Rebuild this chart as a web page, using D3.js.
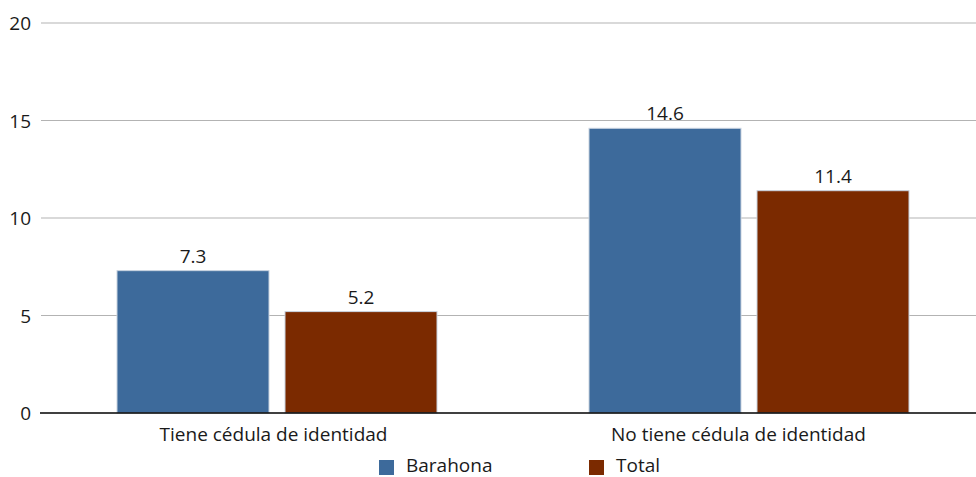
<!DOCTYPE html>
<html><head><meta charset="utf-8">
<script src="https://cdn.jsdelivr.net/npm/d3@7"></script>
<style>body{margin:0;background:#fff;} svg{display:block;font-family:"Open Sans",sans-serif;}</style>
</head><body><svg id="c" width="976" height="477"></svg>
<script>
const categories = ["Tiene cédula de identidad", "No tiene cédula de identidad"];
const seriesNames = ["Barahona", "Total"];
const barahona = [7.3, 14.6];
const total = [5.2, 11.4];
const yTicks = [0, 5, 10, 15, 20];
const colors = ["#3D6A9B", "#7B2A00"];

const svg = d3.select("#c");
const y = d3.scaleLinear().domain([0, 20]).range([413, 23]);
const x0 = d3.scaleBand().domain(categories).range([41, 985]);
const xLabel = d3.scaleBand().domain(categories).range([41, 971]);
const x1 = d3.scaleBand().domain(seriesNames).range([0, 320]).paddingInner(16/168);
const groupOffset = 76;
const values = [barahona, total];
const fs = 19;

// grid
svg.append("g").selectAll("line").data(yTicks.filter(d => d > 0)).join("line")
  .attr("x1", 41).attr("x2", 976).attr("y1", d => y(d)).attr("y2", d => y(d))
  .attr("stroke", "#b3b3b3").attr("stroke-width", 1.2);

// y labels
svg.append("g").selectAll("text").data(yTicks).join("text")
  .attr("x", 31).attr("y", d => y(d) + 7).attr("text-anchor", "end")
  .attr("font-size", fs).attr("fill", "#1a1a1a").text(d => d);

// bars
categories.forEach((c, i) => {
  const g = svg.append("g").attr("transform", `translate(${x0(c) + groupOffset},0)`);
  seriesNames.forEach((s, j) => {
    const v = values[j][i];
    g.append("rect").attr("x", x1(s)).attr("width", x1.bandwidth())
      .attr("y", y(v)).attr("height", y(0) - y(v))
      .attr("fill", colors[j]).attr("stroke", "#c9d3e0").attr("stroke-width", 1);
    g.append("text").attr("x", x1(s) + x1.bandwidth() / 2).attr("y", y(v) - 8)
      .attr("text-anchor", "middle").attr("font-size", fs).attr("fill", "#1a1a1a").text(v.toFixed(1));
  });
});

// axis line
svg.append("line").attr("x1", 40).attr("x2", 976).attr("y1", y(0)).attr("y2", y(0))
  .attr("stroke", "#000").attr("stroke-width", 1.5);

// category labels
svg.append("g").selectAll("text").data(categories).join("text")
  .attr("x", d => xLabel(d) + xLabel.bandwidth() / 2).attr("y", 441).attr("text-anchor", "middle")
  .attr("font-size", fs).attr("fill", "#1a1a1a").text(d => d);

// legend
const legX = [379, 589];
seriesNames.forEach((s, j) => {
  svg.append("rect").attr("x", legX[j]).attr("y", 460).attr("width", 15).attr("height", 15).attr("fill", colors[j]);
  svg.append("text").attr("x", legX[j] + 27).attr("y", 472).attr("font-size", fs).attr("fill", "#1a1a1a").text(s);
});
</script></body></html>
